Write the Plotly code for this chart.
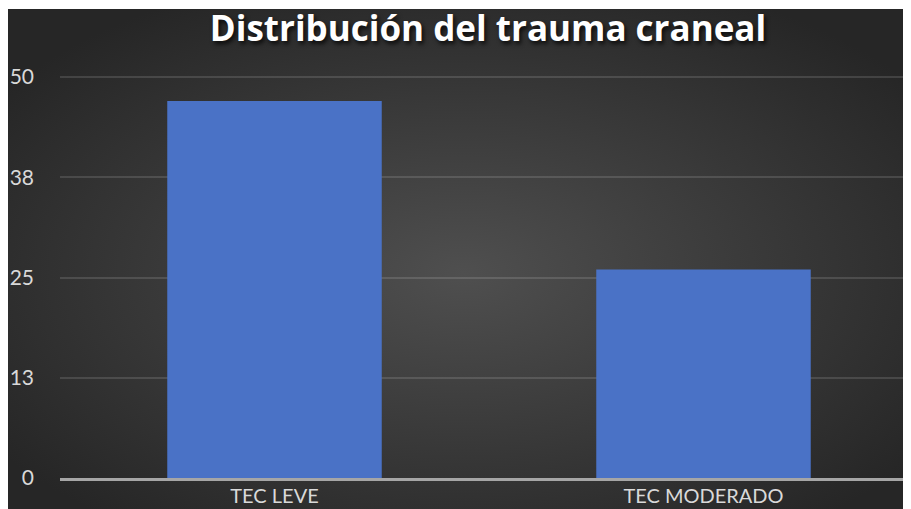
import base64
import plotly.graph_objects as go

# ---- data ----
categories = ["TEC LEVE", "TEC MODERADO"]
values = [47, 26]
tick_vals = [0, 12.5, 25, 37.5, 50]
tick_text = ["0", "13", "25", "38", "50"]
title_text = "Distribución del trauma craneal"

W, H = 911, 509
MT = 1  # thin white band at top

# radial background gradient as an SVG image (styling only)
svg = (
    '<svg xmlns="http://www.w3.org/2000/svg" width="911" height="508" preserveAspectRatio="none">'
    '<defs><radialGradient id="g" cx="50%" cy="52%" r="62%">'
    '<stop offset="0%" stop-color="#4f4f4f"/>'
    '<stop offset="100%" stop-color="#262626"/>'
    '</radialGradient></defs>'
    '<rect width="911" height="508" fill="url(#g)"/></svg>'
)
svg_uri = "data:image/svg+xml;base64," + base64.b64encode(svg.encode()).decode()

PW, PH = W, H - MT
def px_x(p):
    return p / PW
def px_y(p):
    return 1 - (p - MT) / PH

PX_PER_UNIT = (470 - 69) / 50.0
Y_TOP = 52
font_family = "Lato, 'Noto Sans', sans-serif"

fig = go.Figure()
fig.add_trace(go.Bar(
    x=categories,
    y=values,
    marker=dict(color="#4a72c6", line=dict(width=0)),
    width=0.5,
    hoverinfo="x+y",
))

fig.update_layout(
    width=W,
    height=H,
    margin=dict(l=0, t=MT, r=0, b=0, pad=0, autoexpand=False),
    paper_bgcolor="white",
    plot_bgcolor="rgba(0,0,0,0)",
    showlegend=False,
    images=[dict(
        source=svg_uri, xref="paper", yref="paper",
        x=0, y=1, sizex=1, sizey=1, sizing="stretch",
        xanchor="left", yanchor="top", layer="below",
    )],
    title=dict(
        text=title_text,
        x=480 / W, xanchor="center", xref="paper",
        y=1 - 20.5 / H, yanchor="middle", yref="container",
        font=dict(family="'Open Sans', 'Noto Sans', sans-serif", size=35, color="white", weight="bold",
                  shadow="2px 3px 4px rgba(0,0,0,0.75)"),
    ),
    xaxis=dict(
        domain=[px_x(52), px_x(910)],
        range=[-0.5, 1.5],
        showgrid=False,
        showline=True, linecolor="#a6a6a6", linewidth=2.5,
        ticks="", ticklabelstandoff=-2,
        tickfont=dict(family=font_family, size=20, color="#d9d9d9"),
        zeroline=False,
        automargin=False,
        fixedrange=True,
    ),
    yaxis=dict(
        domain=[px_y(470), px_y(470 - Y_TOP * PX_PER_UNIT)],
        range=[0, Y_TOP],
        tickvals=tick_vals,
        ticktext=tick_text,
        tickfont=dict(family=font_family, size=21, color="#d9d9d9"),
        showgrid=True, gridcolor="rgba(255,255,255,0.13)", gridwidth=1.5,
        zeroline=False, showline=False,
        ticks="", ticklabelstandoff=25,
        automargin=False,
        fixedrange=True,
    ),
)

fig.write_html("out.html")
